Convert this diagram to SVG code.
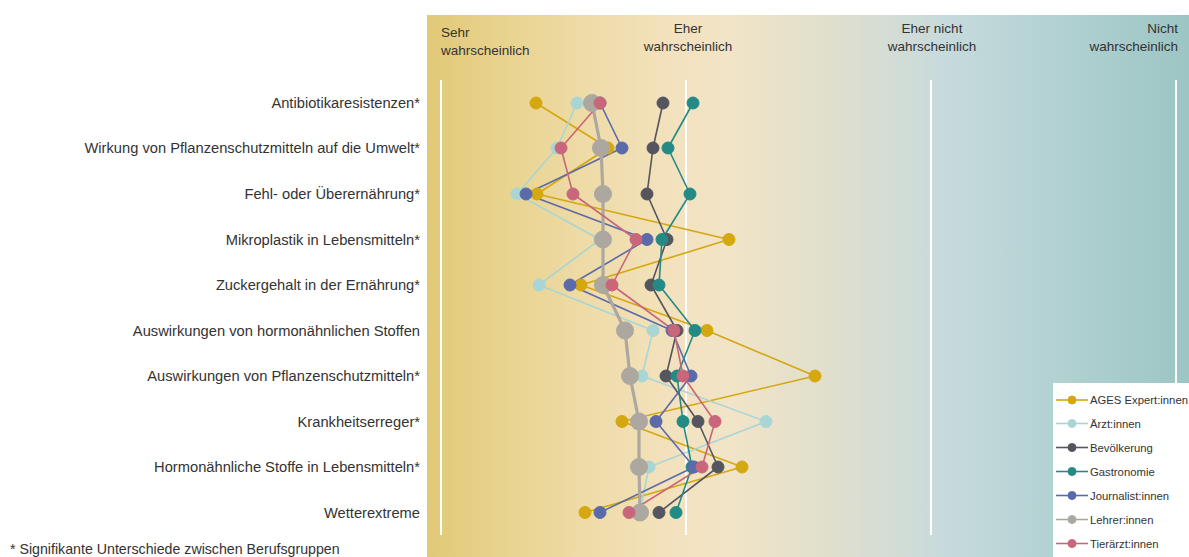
<svg xmlns="http://www.w3.org/2000/svg" width="1189" height="557" viewBox="0 0 1189 557">
<defs>
<linearGradient id="bg" x1="427" y1="0" x2="1189" y2="0" gradientUnits="userSpaceOnUse">
<stop offset="0" stop-color="#e2c978"/>
<stop offset="0.1" stop-color="#e8d38e"/>
<stop offset="0.22" stop-color="#efdcaa"/>
<stop offset="0.33" stop-color="#f3e2bf"/>
<stop offset="0.40" stop-color="#f1e4c8"/>
<stop offset="0.52" stop-color="#e1dfcc"/>
<stop offset="0.62" stop-color="#d2dcd6"/>
<stop offset="0.68" stop-color="#c7dadc"/>
<stop offset="0.80" stop-color="#b6d3d4"/>
<stop offset="1" stop-color="#9cc5c4"/>
</linearGradient>
<style>
text{font-family:"Liberation Sans","Noto Sans",Arial,sans-serif;fill:#333}
.lbl{font-size:14.7px;text-anchor:end}
.hdr{font-size:13.5px}
.foot{font-size:14.2px}
.leg{font-size:11.3px}
.grid{stroke:#ffffff;stroke-width:2}
.s{fill:none;stroke-width:1.6;stroke-linejoin:round}
.ages{stroke:#d4a80e;fill:#d4a80e}
.arzt{stroke:#a9d6d4;fill:#a9d6d4}
.bev{stroke:#55555f;fill:#55555f}
.gas{stroke:#238a86;fill:#238a86}
.jou{stroke:#5b6aa8;fill:#5b6aa8}
.leh{stroke:#aca8a0;fill:#aca8a0}
.tie{stroke:#c9667b;fill:#c9667b}
</style>
</defs>
<rect x="427" y="15" width="762" height="542" fill="url(#bg)"/>
<g id="gridlines">
<line class="grid" x1="441" y1="80" x2="441" y2="535"/>
<line class="grid" x1="686" y1="80" x2="686" y2="535"/>
<line class="grid" x1="931" y1="80" x2="931" y2="535"/>
<line class="grid" x1="1176" y1="80" x2="1176" y2="535"/>
</g>
<g id="header">
<text class="hdr" x="441" y="37">Sehr</text>
<text class="hdr" x="441" y="55">wahrscheinlich</text>
<text class="hdr" x="688" y="33" text-anchor="middle">Eher</text>
<text class="hdr" x="688" y="51" text-anchor="middle">wahrscheinlich</text>
<text class="hdr" x="932" y="33" text-anchor="middle">Eher nicht</text>
<text class="hdr" x="932" y="51" text-anchor="middle">wahrscheinlich</text>
<text class="hdr" x="1178" y="33" text-anchor="end">Nicht</text>
<text class="hdr" x="1178" y="51" text-anchor="end">wahrscheinlich</text>
</g>
<g id="labels">
<text class="lbl" x="420" y="108">Antibiotikaresistenzen*</text>
<text class="lbl" x="420" y="153">Wirkung von Pflanzenschutzmitteln auf die Umwelt*</text>
<text class="lbl" x="420" y="199">Fehl- oder Überernährung*</text>
<text class="lbl" x="420" y="245">Mikroplastik in Lebensmitteln*</text>
<text class="lbl" x="420" y="290">Zuckergehalt in der Ernährung*</text>
<text class="lbl" x="420" y="336">Auswirkungen von hormonähnlichen Stoffen</text>
<text class="lbl" x="420" y="381">Auswirkungen von Pflanzenschutzmitteln*</text>
<text class="lbl" x="420" y="427">Krankheitserreger*</text>
<text class="lbl" x="420" y="472">Hormonähnliche Stoffe in Lebensmitteln*</text>
<text class="lbl" x="420" y="518">Wetterextreme</text>
</g>
<g id="connectors">
<polyline class="s ages" style="fill:none" points="536,103 608,148 537,194 729,239.5 581,285 707,330.5 815,376 622,421.5 742,467 585,512.5"/>
<polyline class="s arzt" style="fill:none" points="577,103 557,148 517,194 600,239.5 539,285 653,330.5 642,376 766,421.5 649,467 640,512.5"/>
<polyline class="s bev" style="fill:none" points="663,103 653,148 647,194 667,239.5 651,285 677,330.5 666,376 698,421.5 718,467 659,512.5"/>
<polyline class="s gas" style="fill:none" points="693,103 668,148 690,194 662,239.5 659,285 695,330.5 677,376 683,421.5 692,467 676,512.5"/>
<polyline class="s jou" style="fill:none" points="600,103 622,148 526,194 647,239.5 570,285 672,330.5 691,376 656,421.5 694,467 600,512.5"/>
<polyline class="s leh" style="fill:none;stroke-width:3.2" points="592,103 601,148 603,194 603,239.5 603,285 625,330.5 630,376 639,421.5 639,467 640,512.5"/>
<polyline class="s tie" style="fill:none" points="600,103 561,148 573,194 636,239.5 612,285 674,330.5 683,376 715,421.5 702,467 629,512.5"/>
</g>
<g id="series-ages" class="ages">
<circle cx="536" cy="103" r="6"/><circle cx="608" cy="148" r="6"/><circle cx="537" cy="194" r="6"/><circle cx="729" cy="239.5" r="6"/><circle cx="581" cy="285" r="6"/><circle cx="707" cy="330.5" r="6"/><circle cx="815" cy="376" r="6"/><circle cx="622" cy="421.5" r="6"/><circle cx="742" cy="467" r="6"/><circle cx="585" cy="512.5" r="6"/>
</g>
<g id="series-arzt" class="arzt">
<circle cx="577" cy="103" r="6"/><circle cx="557" cy="148" r="6"/><circle cx="517" cy="194" r="6"/><circle cx="600" cy="239.5" r="6"/><circle cx="539" cy="285" r="6"/><circle cx="653" cy="330.5" r="6"/><circle cx="642" cy="376" r="6"/><circle cx="766" cy="421.5" r="6"/><circle cx="649" cy="467" r="6"/><circle cx="640" cy="512.5" r="6"/>
</g>
<g id="series-bev" class="bev">
<circle cx="663" cy="103" r="6"/><circle cx="653" cy="148" r="6"/><circle cx="647" cy="194" r="6"/><circle cx="667" cy="239.5" r="6"/><circle cx="651" cy="285" r="6"/><circle cx="677" cy="330.5" r="6"/><circle cx="666" cy="376" r="6"/><circle cx="698" cy="421.5" r="6"/><circle cx="718" cy="467" r="6"/><circle cx="659" cy="512.5" r="6"/>
</g>
<g id="series-gas" class="gas">
<circle cx="693" cy="103" r="6"/><circle cx="668" cy="148" r="6"/><circle cx="690" cy="194" r="6"/><circle cx="662" cy="239.5" r="6"/><circle cx="659" cy="285" r="6"/><circle cx="695" cy="330.5" r="6"/><circle cx="677" cy="376" r="6"/><circle cx="683" cy="421.5" r="6"/><circle cx="692" cy="467" r="6"/><circle cx="676" cy="512.5" r="6"/>
</g>
<g id="series-jou" class="jou">
<circle cx="600" cy="103" r="6"/><circle cx="622" cy="148" r="6"/><circle cx="526" cy="194" r="6"/><circle cx="647" cy="239.5" r="6"/><circle cx="570" cy="285" r="6"/><circle cx="672" cy="330.5" r="6"/><circle cx="691" cy="376" r="6"/><circle cx="656" cy="421.5" r="6"/><circle cx="694" cy="467" r="6"/><circle cx="600" cy="512.5" r="6"/>
</g>
<g id="series-leh" class="leh">
<circle cx="592" cy="103" r="8.5"/><circle cx="601" cy="148" r="8.5"/><circle cx="603" cy="194" r="8.5"/><circle cx="603" cy="239.5" r="8.5"/><circle cx="603" cy="285" r="8.5"/><circle cx="625" cy="330.5" r="8.5"/><circle cx="630" cy="376" r="8.5"/><circle cx="639" cy="421.5" r="8.5"/><circle cx="639" cy="467" r="8.5"/><circle cx="640" cy="512.5" r="8.5"/>
</g>
<g id="series-tie" class="tie">
<circle cx="600" cy="103" r="6"/><circle cx="561" cy="148" r="6"/><circle cx="573" cy="194" r="6"/><circle cx="636" cy="239.5" r="6"/><circle cx="612" cy="285" r="6"/><circle cx="674" cy="330.5" r="6"/><circle cx="683" cy="376" r="6"/><circle cx="715" cy="421.5" r="6"/><circle cx="702" cy="467" r="6"/><circle cx="629" cy="512.5" r="6"/>
</g>
<g id="legend">
<rect x="1053" y="383" width="136" height="174" fill="#ffffff"/>
<line class="ages" x1="1056" y1="400" x2="1088" y2="400" stroke-width="1.6"/><circle class="ages" cx="1072" cy="400" r="4"/><text class="leg" x="1090" y="404">AGES Expert:innen</text>
<line class="arzt" x1="1056" y1="423.5" x2="1088" y2="423.5" stroke-width="1.6"/><circle class="arzt" cx="1072" cy="423.5" r="4"/><text class="leg" x="1090" y="427.5">Ärzt:innen</text>
<line class="bev" x1="1056" y1="447.5" x2="1088" y2="447.5" stroke-width="1.6"/><circle class="bev" cx="1072" cy="447.5" r="4"/><text class="leg" x="1090" y="451.5">Bevölkerung</text>
<line class="gas" x1="1056" y1="471.5" x2="1088" y2="471.5" stroke-width="1.6"/><circle class="gas" cx="1072" cy="471.5" r="4"/><text class="leg" x="1090" y="475.5">Gastronomie</text>
<line class="jou" x1="1056" y1="495.5" x2="1088" y2="495.5" stroke-width="1.6"/><circle class="jou" cx="1072" cy="495.5" r="4"/><text class="leg" x="1090" y="499.5">Journalist:innen</text>
<line class="leh" x1="1056" y1="519.5" x2="1088" y2="519.5" stroke-width="1.6"/><circle class="leh" cx="1072" cy="519.5" r="4"/><text class="leg" x="1090" y="523.5">Lehrer:innen</text>
<line class="tie" x1="1056" y1="543.5" x2="1088" y2="543.5" stroke-width="1.6"/><circle class="tie" cx="1072" cy="543.5" r="4"/><text class="leg" x="1090" y="547.5">Tierärzt:innen</text>
</g>
<text class="foot" x="10" y="554">* Signifikante Unterschiede zwischen Berufsgruppen</text>
</svg>
